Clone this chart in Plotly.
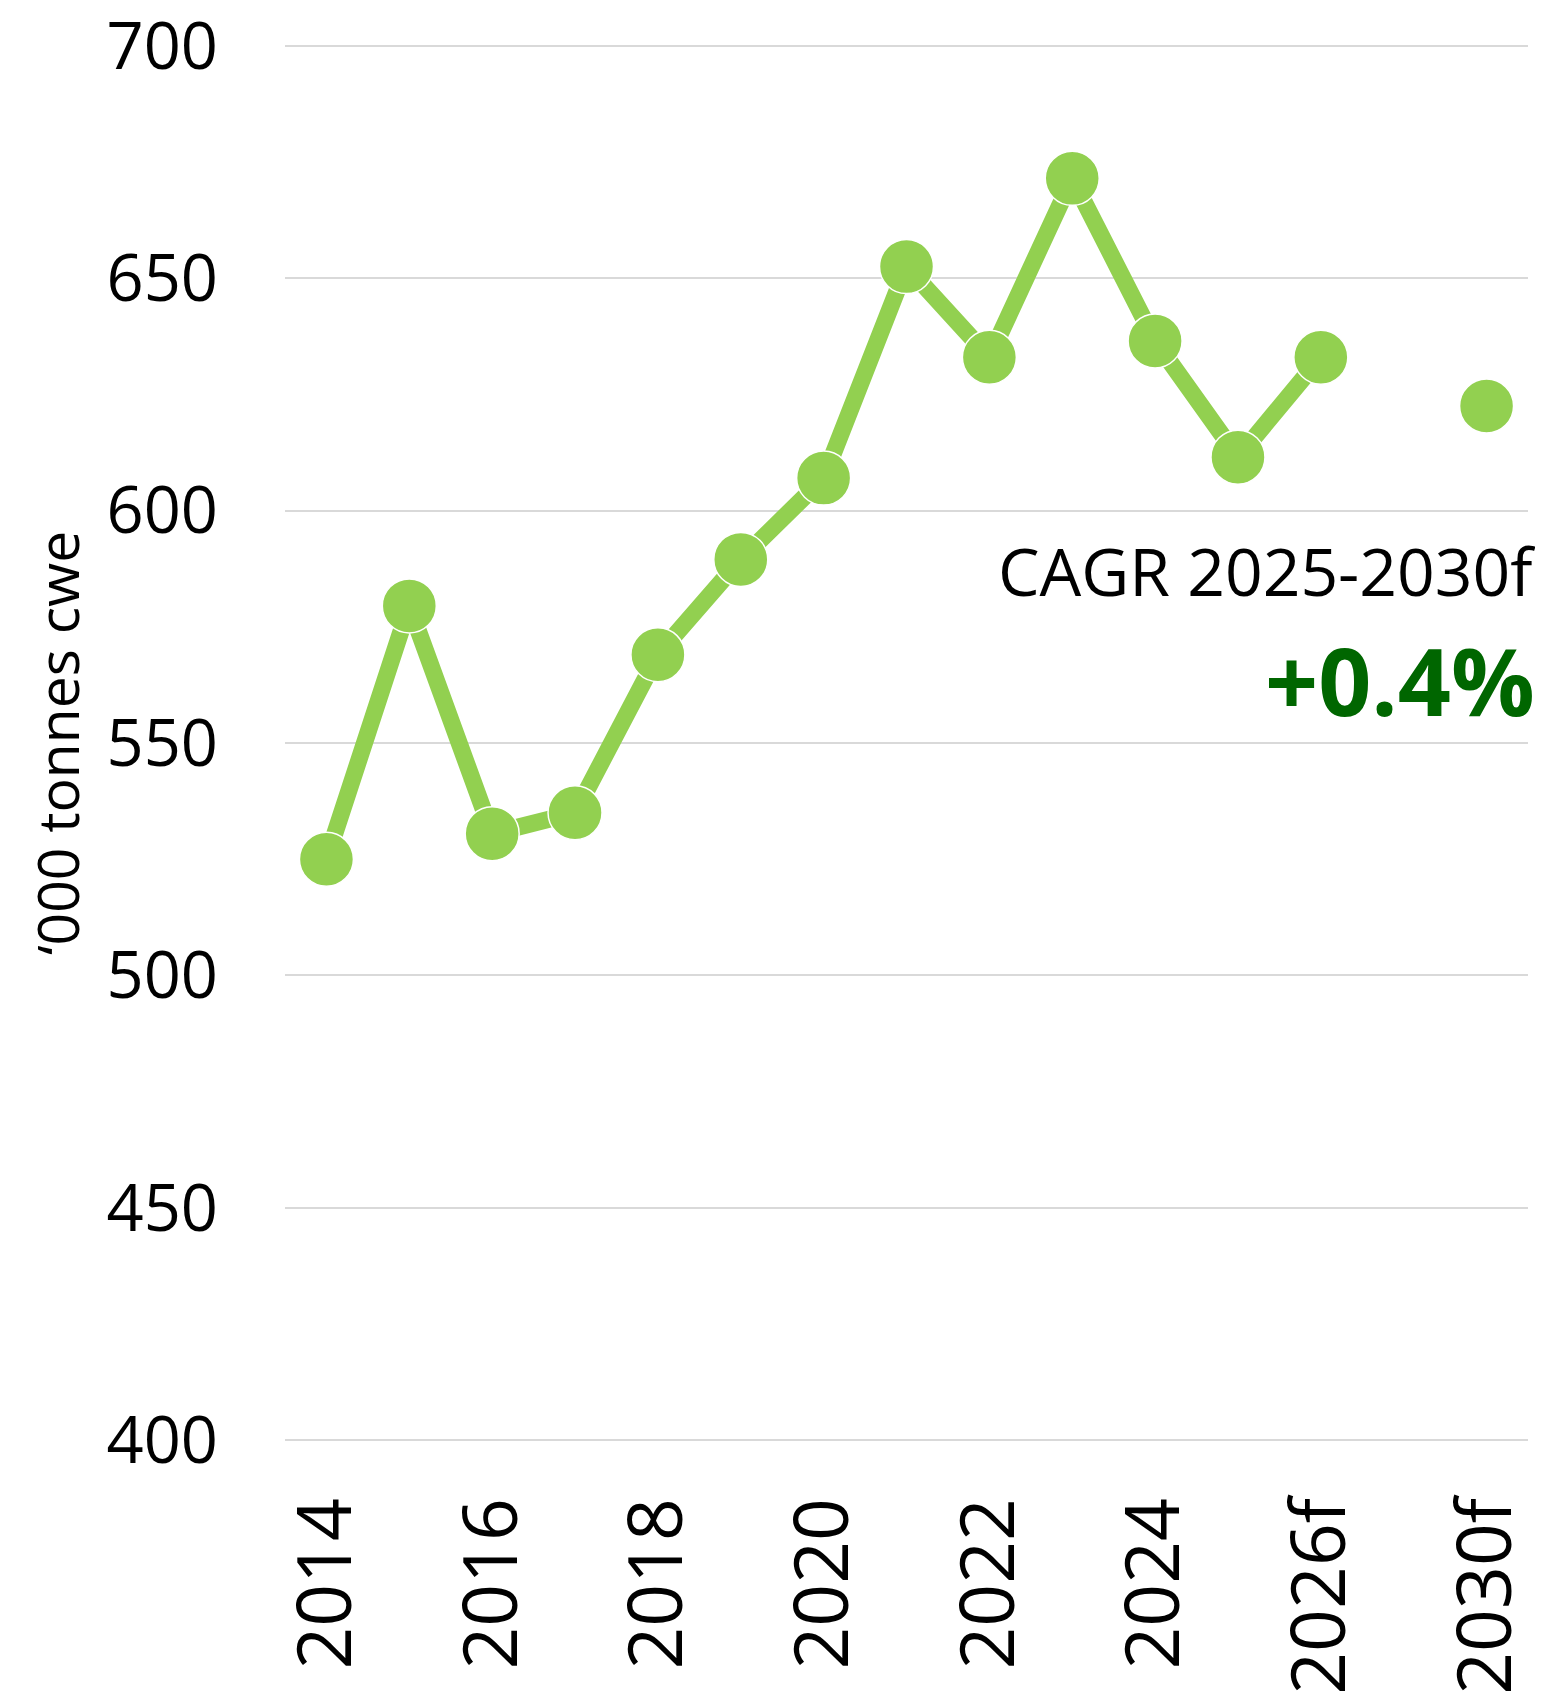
import plotly.graph_objects as go

# categories on the x axis (one blank slot between 2026f and 2030f)
years = ["2014", "2015", "2016", "2017", "2018", "2019", "2020", "2021",
         "2022", "2023", "2024", "2025", "2026f", " ", "2030f"]
# '000 tonnes cwe
production = [525, 579.5, 530.5, 535, 569, 589.5, 607, 652.5,
              633, 671.5, 636.5, 611.5, 633, None, 622.5]

tick_years = ["2014", "2016", "2018", "2020", "2022", "2024", "2026f", "2030f"]
y_ticks = [400, 450, 500, 550, 600, 650, 700]

cagr_label = "CAGR 2025-2030f"
cagr_value = "+0.4%"

green = "#92D050"
font = "Open Sans"

fig = go.Figure()
fig.add_trace(go.Scatter(
    x=years,
    y=production,
    mode="lines+markers",
    connectgaps=False,
    line=dict(color=green, width=17),
    marker=dict(size=54, color=green, line=dict(color="white", width=1.5)),
    hoverinfo="x+y",
))

# the page body has an 8px margin, so the figure is a bit smaller than the window
fig.update_layout(
    width=1535,
    height=1699,
    margin=dict(l=277, r=15, t=36, b=265),
    plot_bgcolor="white",
    paper_bgcolor="white",
    showlegend=False,
    font=dict(family=font, color="black"),
    xaxis=dict(
        type="category",
        categoryorder="array",
        categoryarray=years,
        range=[-0.5, 14.5],
        tickmode="array",
        tickvals=tick_years,
        ticktext=tick_years,
        tickangle=-90,
        tickfont=dict(size=75),
        showgrid=False,
        showline=False,
        ticks="",
        ticklabelstandoff=40,
        ticklabeloverflow="allow",
        automargin=False,
    ),
    yaxis=dict(
        # tiny padding so the 400 and 700 gridlines are drawn
        range=[399.6, 700.4],
        tickvals=y_ticks,
        tickfont=dict(size=65),
        showgrid=True,
        gridcolor="#D9D9D9",
        gridwidth=2,
        zeroline=False,
        showline=False,
        ticks="",
        ticklabelstandoff=66,
        ticklabeloverflow="allow",
        automargin=False,
    ),
    annotations=[
        dict(text="\u2018000 tonnes cwe", xref="paper", yref="paper",
             x=-0.1834, y=0.5, textangle=-90, showarrow=False,
             xanchor="center", yanchor="middle", font=dict(size=57)),
        dict(text=cagr_label, xref="paper", yref="paper",
             x=1.008, y=0.624, showarrow=False, xanchor="right",
             yanchor="middle", font=dict(size=66)),
        dict(text="<b>" + cagr_value + "</b>", xref="paper", yref="paper",
             x=1.007, y=0.545, showarrow=False, xanchor="right",
             yanchor="middle", font=dict(size=93, color="#006600")),
    ],
)

fig.write_html("out.html")
